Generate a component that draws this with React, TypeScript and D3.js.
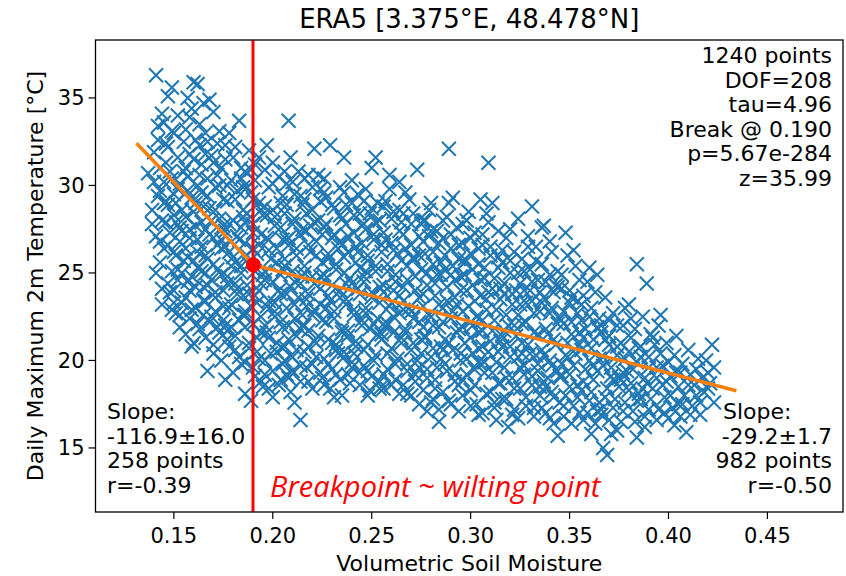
import React from "react";
import * as d3 from "d3";

const W = 846;
const H = 576;

const titleText = "ERA5 [3.375°E, 48.478°N]";
const xLabel = "Volumetric Soil Moisture";
const yLabel = "Daily Maximum 2m Temperature [°C]";
const xTicks = [0.15, 0.2, 0.25, 0.3, 0.35, 0.4, 0.45];
const yTicks = [15, 20, 25, 30, 35];

const statsLines = ["1240 points", "DOF=208", "tau=4.96", "Break @ 0.190", "p=5.67e-284", "z=35.99"];
const leftLines = ["Slope:", "-116.9±16.0", "258 points", "r=-0.39"];
const rightLines = ["Slope:", "-29.2±1.7", "982 points", "r=-0.50"];
const breakLabel = "Breakpoint ~ wilting point";

const breakX = 0.19;
const fitX = [0.1311, 0.1902, 0.4343];
const fitY = [32.41, 25.46, 18.27];

type P = [number, number];

const band014: P[] = [[0.141,36.3],[0.144,34.1],[0.145,33.6],[0.140,31.9],[0.137,30.7],[0.143,31.0],[0.145,30.2],[0.142,29.4],[0.139,28.6],[0.144,28.0],[0.141,27.1],[0.145,26.4],[0.143,25.6],[0.144,24.1],[0.145,29.0],[0.146,32.4]];
const fill014: P[] = [[0.140,30.2],[0.142,32.6],[0.139,27.8],[0.143,26.8],[0.141,25.0],[0.144,23.2],[0.142,33.4],[0.143,29.7]];
const band015: P[] = [[0.149,35.6],[0.150,33.0],[0.147,32.2],[0.152,31.6],[0.148,30.8],[0.153,30.1],[0.150,29.5],[0.147,28.9],[0.154,28.6],[0.151,27.9],[0.148,27.3],[0.153,26.8],[0.150,26.2],[0.155,25.7],[0.149,25.1],[0.152,24.6],[0.148,23.9],[0.154,23.3],[0.151,22.7],[0.149,22.9],[0.153,21.9],[0.155,32.5],[0.151,29.0],[0.154,27.4],[0.152,25.2],[0.150,24.0]];
const fill015: P[] = [[0.146,31.3],[0.149,30.4],[0.152,29.8],[0.146,29.1],[0.150,28.3],[0.153,27.6],[0.147,26.6],[0.151,26.0],[0.154,25.0],[0.147,24.4],[0.150,23.3],[0.153,22.6],[0.146,27.9],[0.155,30.8],[0.149,33.1],[0.152,34.0],[0.147,35.1]];
const band016: P[] = [[0.160,35.9],[0.157,35.0],[0.162,35.8],[0.159,34.4],[0.163,33.5],[0.156,33.2],[0.161,32.6],[0.158,31.8],[0.164,31.2],[0.157,30.5],[0.162,30.0],[0.159,29.3],[0.165,28.8],[0.156,28.2],[0.161,27.7],[0.158,27.0],[0.164,26.5],[0.157,25.9],[0.162,25.3],[0.159,24.8],[0.165,24.2],[0.156,23.6],[0.161,23.0],[0.158,22.4],[0.163,21.8],[0.159,20.8],[0.164,29.6],[0.160,28.5],[0.163,26.1],[0.158,24.0],[0.165,22.6]];
const fill016: P[] = [[0.156,31.0],[0.160,31.5],[0.163,30.6],[0.157,29.7],[0.161,29.0],[0.164,27.9],[0.158,27.5],[0.162,26.9],[0.156,26.4],[0.160,25.7],[0.164,25.1],[0.157,24.5],[0.161,24.2],[0.165,23.4],[0.159,22.9],[0.162,22.1],[0.156,21.5],[0.160,21.0],[0.163,32.3],[0.158,33.9],[0.165,34.7]];
const band017: P[] = [[0.168,34.9],[0.170,34.2],[0.166,33.0],[0.172,32.4],[0.169,31.7],[0.174,31.0],[0.167,30.4],[0.171,29.9],[0.175,29.2],[0.168,28.7],[0.173,28.1],[0.166,27.5],[0.170,27.0],[0.174,26.4],[0.167,25.8],[0.172,25.2],[0.169,24.6],[0.175,24.0],[0.166,23.4],[0.171,22.8],[0.168,22.2],[0.173,21.6],[0.170,20.9],[0.174,20.0],[0.167,19.4],[0.172,30.6],[0.169,28.0],[0.174,26.9],[0.166,25.0],[0.171,23.9],[0.175,22.3]];
const fill017: P[] = [[0.166,31.8],[0.170,31.3],[0.173,30.0],[0.167,29.4],[0.171,28.6],[0.175,27.7],[0.168,27.2],[0.172,26.6],[0.166,26.0],[0.170,25.5],[0.174,24.9],[0.167,24.3],[0.171,23.6],[0.175,23.1],[0.169,22.5],[0.172,21.9],[0.166,21.3],[0.170,20.4],[0.173,33.1],[0.167,32.5]];
const band018: P[] = [[0.183,33.7],[0.178,33.0],[0.181,32.2],[0.176,31.5],[0.184,31.0],[0.179,30.3],[0.182,29.7],[0.177,29.1],[0.185,28.6],[0.180,28.0],[0.176,27.4],[0.183,26.9],[0.178,26.2],[0.181,25.6],[0.184,25.0],[0.177,24.4],[0.182,23.8],[0.179,23.2],[0.185,22.6],[0.176,22.0],[0.181,21.4],[0.178,20.8],[0.183,20.2],[0.180,19.3],[0.176,18.9],[0.184,27.6],[0.179,25.4],[0.182,24.1],[0.177,21.2],[0.185,29.9]];
const fill018: P[] = [[0.176,32.3],[0.180,31.6],[0.184,30.4],[0.177,30.0],[0.181,29.2],[0.185,28.2],[0.178,27.8],[0.182,27.1],[0.176,26.5],[0.180,25.9],[0.184,25.4],[0.177,24.8],[0.181,24.4],[0.185,23.7],[0.178,23.0],[0.183,22.3],[0.177,21.7],[0.181,20.6],[0.184,19.8],[0.179,21.9]];
const band019: P[] = [[0.188,32.0],[0.186,30.8],[0.191,30.3],[0.189,29.6],[0.193,29.0],[0.187,28.4],[0.190,27.8],[0.194,27.2],[0.186,26.7],[0.192,26.1],[0.188,25.5],[0.195,24.9],[0.187,24.3],[0.191,23.7],[0.189,23.1],[0.194,22.5],[0.186,21.9],[0.192,21.3],[0.188,20.7],[0.193,20.1],[0.190,19.6],[0.186,18.1],[0.195,18.5],[0.195,28.3],[0.190,26.4],[0.193,24.0],[0.186,22.8],[0.191,31.2],[0.194,18.8],[0.189,17.7]];
const fill019: P[] = [[0.187,29.9],[0.190,29.2],[0.194,28.6],[0.186,27.9],[0.190,27.3],[0.193,26.6],[0.187,26.0],[0.191,25.1],[0.194,24.4],[0.188,23.8],[0.192,23.3],[0.186,22.6],[0.190,22.1],[0.194,21.6],[0.188,21.0],[0.192,20.5],[0.186,19.9],[0.191,19.1],[0.189,30.9],[0.193,31.6]];
const band020: P[] = [[0.197,32.3],[0.200,31.3],[0.203,30.5],[0.198,29.9],[0.205,29.4],[0.196,28.8],[0.201,28.2],[0.204,27.6],[0.197,27.0],[0.202,26.4],[0.199,25.8],[0.205,25.2],[0.196,24.6],[0.203,24.0],[0.198,23.4],[0.201,22.8],[0.204,22.2],[0.197,21.6],[0.202,21.0],[0.199,20.4],[0.205,19.8],[0.196,19.2],[0.203,18.6],[0.200,17.9],[0.198,26.9],[0.204,24.9],[0.201,23.3],[0.196,22.0],[0.205,20.7],[0.200,28.6]];
const fill020: P[] = [[0.196,30.9],[0.200,30.1],[0.204,29.0],[0.197,28.3],[0.201,27.7],[0.205,26.9],[0.198,26.3],[0.202,25.6],[0.196,25.1],[0.200,24.5],[0.204,23.8],[0.197,23.1],[0.201,22.5],[0.205,21.9],[0.198,21.3],[0.202,20.5],[0.196,20.0],[0.200,19.4],[0.204,18.9],[0.198,18.4]];
const band021: P[] = [[0.208,33.7],[0.209,31.6],[0.213,30.8],[0.207,30.1],[0.211,29.5],[0.215,28.9],[0.206,28.4],[0.210,27.8],[0.214,27.2],[0.208,26.6],[0.212,26.0],[0.206,25.4],[0.215,24.8],[0.209,24.2],[0.213,23.6],[0.207,23.0],[0.211,22.4],[0.214,21.8],[0.208,21.2],[0.212,20.6],[0.206,20.0],[0.210,19.4],[0.214,18.8],[0.209,18.2],[0.211,17.6],[0.214,16.6],[0.207,26.9],[0.211,24.5],[0.215,22.0],[0.208,19.0]];
const fill021: P[] = [[0.206,30.8],[0.210,30.2],[0.214,29.4],[0.207,28.9],[0.211,28.1],[0.215,27.5],[0.208,27.0],[0.212,26.4],[0.206,25.8],[0.210,25.1],[0.214,24.4],[0.207,23.8],[0.211,23.2],[0.215,22.6],[0.208,22.0],[0.212,21.4],[0.206,20.8],[0.210,20.2],[0.214,19.7],[0.207,19.2]];
const band022: P[] = [[0.221,32.1],[0.218,30.6],[0.224,29.8],[0.216,29.2],[0.220,28.6],[0.223,28.0],[0.217,27.4],[0.222,26.8],[0.219,26.2],[0.225,25.6],[0.216,25.0],[0.221,24.4],[0.218,23.8],[0.224,23.2],[0.220,22.6],[0.216,22.0],[0.223,21.4],[0.218,20.8],[0.222,20.2],[0.217,19.6],[0.225,19.0],[0.220,18.4],[0.219,27.7],[0.224,24.8],[0.217,23.1],[0.221,21.1],[0.223,30.6]];
const fill022: P[] = [[0.216,30.4],[0.220,29.9],[0.224,29.1],[0.217,28.4],[0.221,27.9],[0.225,27.2],[0.218,26.6],[0.222,26.0],[0.216,25.4],[0.220,24.8],[0.224,24.1],[0.217,23.5],[0.221,22.9],[0.225,22.3],[0.218,21.7],[0.222,21.0],[0.216,20.5],[0.220,19.8],[0.224,19.3],[0.218,18.8]];
const band023: P[] = [[0.229,32.3],[0.234,29.9],[0.227,29.3],[0.231,28.7],[0.235,28.1],[0.226,27.6],[0.230,27.0],[0.233,26.4],[0.228,25.8],[0.232,25.2],[0.226,24.6],[0.234,24.0],[0.229,23.4],[0.231,22.8],[0.227,22.2],[0.235,21.6],[0.230,21.0],[0.233,20.4],[0.228,19.8],[0.232,19.2],[0.226,18.6],[0.231,17.9],[0.234,26.8],[0.228,23.7],[0.232,20.9],[0.226,30.4]];
const fill023: P[] = [[0.226,29.6],[0.230,28.9],[0.234,28.3],[0.227,27.8],[0.231,27.2],[0.235,26.6],[0.228,26.1],[0.232,25.5],[0.226,24.9],[0.230,24.3],[0.234,23.6],[0.227,23.0],[0.231,22.4],[0.235,21.8],[0.228,21.2],[0.232,20.6],[0.226,20.1],[0.230,19.5],[0.234,18.9],[0.229,18.4]];
const band024: P[] = [[0.236,31.6],[0.240,30.3],[0.243,29.5],[0.237,28.9],[0.241,28.3],[0.245,27.7],[0.238,27.1],[0.242,26.5],[0.236,25.9],[0.244,25.3],[0.239,24.7],[0.243,24.1],[0.237,23.5],[0.241,22.9],[0.245,22.3],[0.238,21.7],[0.242,21.1],[0.236,20.5],[0.240,19.9],[0.244,19.3],[0.235,18.0],[0.239,18.7],[0.243,26.2],[0.237,24.4],[0.241,20.4]];
const fill024: P[] = [[0.236,29.6],[0.240,29.0],[0.244,28.4],[0.237,27.8],[0.241,27.3],[0.245,26.7],[0.238,26.2],[0.242,25.6],[0.236,25.0],[0.240,24.4],[0.244,23.8],[0.237,23.2],[0.241,22.6],[0.245,22.0],[0.238,21.4],[0.242,20.8],[0.236,20.2],[0.240,19.6],[0.244,18.6],[0.238,19.2]];
const band025: P[] = [[0.252,31.6],[0.250,31.0],[0.247,29.8],[0.253,29.0],[0.249,28.4],[0.246,27.8],[0.251,27.2],[0.255,26.6],[0.248,26.0],[0.252,25.4],[0.246,24.8],[0.254,24.2],[0.250,23.6],[0.247,23.0],[0.253,22.4],[0.249,21.8],[0.255,21.2],[0.246,20.6],[0.251,20.0],[0.248,19.4],[0.254,18.8],[0.249,18.3],[0.252,27.9],[0.247,25.1],[0.253,21.5]];
const fill025: P[] = [[0.246,29.1],[0.250,28.7],[0.254,28.0],[0.247,27.5],[0.251,26.9],[0.255,26.2],[0.248,25.7],[0.252,25.1],[0.246,24.5],[0.250,23.9],[0.254,23.3],[0.247,22.7],[0.251,22.1],[0.255,21.5],[0.248,20.9],[0.252,20.3],[0.246,19.7],[0.250,19.1],[0.254,18.4],[0.248,18.0]];
const band026: P[] = [[0.259,30.6],[0.264,30.2],[0.257,29.1],[0.261,28.5],[0.265,27.9],[0.256,27.3],[0.260,26.7],[0.263,26.1],[0.258,25.5],[0.262,24.9],[0.256,24.3],[0.264,23.7],[0.259,23.1],[0.261,22.5],[0.257,21.9],[0.265,21.3],[0.260,20.7],[0.263,20.1],[0.258,19.5],[0.262,18.9],[0.256,18.4],[0.261,24.0],[0.264,28.6],[0.258,22.1]];
const fill026: P[] = [[0.256,28.8],[0.260,28.1],[0.264,27.4],[0.257,26.9],[0.261,26.3],[0.265,25.7],[0.258,25.1],[0.262,24.5],[0.256,23.9],[0.260,23.3],[0.264,22.7],[0.257,22.2],[0.261,21.6],[0.265,21.0],[0.258,20.4],[0.262,19.8],[0.256,19.2],[0.260,18.6],[0.264,18.1],[0.259,29.8]];
const band027: P[] = [[0.273,30.9],[0.267,29.6],[0.271,28.4],[0.275,27.8],[0.266,27.2],[0.270,26.6],[0.274,26.0],[0.268,25.4],[0.272,24.8],[0.266,24.2],[0.274,23.6],[0.269,23.0],[0.271,22.4],[0.267,21.8],[0.275,21.2],[0.270,20.6],[0.273,20.0],[0.268,19.4],[0.272,18.8],[0.268,18.1],[0.271,25.9],[0.266,22.9],[0.274,19.6]];
const fill027: P[] = [[0.266,28.4],[0.270,27.8],[0.274,27.1],[0.267,26.4],[0.271,25.8],[0.275,25.2],[0.268,24.6],[0.272,24.0],[0.266,23.4],[0.270,22.8],[0.274,22.2],[0.267,21.6],[0.271,21.0],[0.275,20.4],[0.268,19.8],[0.272,19.2],[0.266,18.6],[0.270,18.0],[0.274,17.5],[0.269,29.2]];
const band028: P[] = [[0.280,29.0],[0.277,28.0],[0.283,27.4],[0.276,26.8],[0.281,26.2],[0.285,25.6],[0.278,25.0],[0.282,24.4],[0.276,23.8],[0.284,23.2],[0.279,22.6],[0.281,22.0],[0.277,21.4],[0.285,20.8],[0.280,20.2],[0.283,19.6],[0.278,19.0],[0.282,18.4],[0.278,17.1],[0.284,16.5],[0.279,27.1],[0.283,24.9],[0.276,21.9],[0.281,17.8]];
const fill028: P[] = [[0.276,28.0],[0.280,27.4],[0.284,26.7],[0.277,26.1],[0.281,25.5],[0.285,24.9],[0.278,24.3],[0.282,23.7],[0.276,23.1],[0.280,22.5],[0.284,21.9],[0.277,21.3],[0.281,20.7],[0.285,20.1],[0.278,19.5],[0.282,18.9],[0.276,18.3],[0.280,17.6],[0.284,17.2],[0.279,28.6]];
const band029: P[] = [[0.289,32.1],[0.291,29.3],[0.288,28.2],[0.293,27.6],[0.286,27.0],[0.290,26.4],[0.294,25.8],[0.287,25.2],[0.292,24.6],[0.295,24.0],[0.288,23.4],[0.291,22.8],[0.286,22.2],[0.293,21.6],[0.289,21.0],[0.295,20.4],[0.287,19.8],[0.292,19.2],[0.289,17.7],[0.294,18.6],[0.290,24.9],[0.286,20.6],[0.293,23.2]];
const fill029: P[] = [[0.286,28.0],[0.290,27.2],[0.294,26.6],[0.287,26.0],[0.291,25.4],[0.295,24.8],[0.288,24.2],[0.292,23.6],[0.286,23.0],[0.290,22.4],[0.294,21.8],[0.287,21.2],[0.291,20.6],[0.295,20.0],[0.288,19.4],[0.292,18.8],[0.286,18.2],[0.290,17.5],[0.294,17.1],[0.289,29.0]];
const band030: P[] = [[0.305,29.2],[0.298,28.0],[0.302,27.3],[0.296,26.7],[0.300,26.1],[0.304,25.5],[0.297,24.9],[0.301,24.3],[0.305,23.7],[0.299,23.1],[0.303,22.5],[0.296,21.9],[0.300,21.3],[0.304,20.7],[0.298,20.1],[0.302,19.5],[0.296,18.9],[0.300,18.3],[0.303,17.5],[0.301,22.0],[0.297,25.6],[0.304,19.9]];
const fill030: P[] = [[0.296,27.8],[0.300,27.0],[0.304,26.4],[0.297,25.8],[0.301,25.2],[0.305,24.6],[0.298,24.0],[0.302,23.4],[0.296,22.8],[0.300,22.2],[0.304,21.6],[0.297,21.0],[0.301,20.4],[0.305,19.8],[0.298,19.2],[0.302,18.6],[0.296,18.0],[0.300,17.4],[0.304,16.9],[0.299,28.5]];
const band031: P[] = [[0.309,31.3],[0.308,28.4],[0.311,29.0],[0.306,27.2],[0.310,26.5],[0.314,25.9],[0.307,25.3],[0.312,24.7],[0.315,24.1],[0.308,23.5],[0.313,22.9],[0.306,22.3],[0.311,21.7],[0.315,21.1],[0.309,20.5],[0.313,19.9],[0.307,19.3],[0.310,18.2],[0.314,18.7],[0.312,17.3],[0.309,23.9],[0.306,20.8]];
const fill031: P[] = [[0.306,26.6],[0.310,26.0],[0.314,25.3],[0.307,24.7],[0.311,24.1],[0.315,23.5],[0.308,22.9],[0.312,22.3],[0.306,21.7],[0.310,21.1],[0.314,20.5],[0.307,19.9],[0.311,19.3],[0.315,18.7],[0.308,18.1],[0.312,17.6],[0.306,17.0],[0.314,27.4],[0.309,27.9],[0.313,16.6]];
const band032: P[] = [[0.324,28.1],[0.318,27.0],[0.322,26.2],[0.316,25.6],[0.320,25.0],[0.325,24.4],[0.317,23.8],[0.321,23.2],[0.324,22.6],[0.319,22.0],[0.323,21.4],[0.316,20.8],[0.320,20.2],[0.325,19.6],[0.318,19.0],[0.322,18.4],[0.316,17.8],[0.319,16.2],[0.321,16.9],[0.323,24.0],[0.317,21.7]];
const fill032: P[] = [[0.316,26.3],[0.320,25.7],[0.324,25.0],[0.317,24.4],[0.321,23.8],[0.325,23.2],[0.318,22.6],[0.322,22.0],[0.316,21.4],[0.320,20.8],[0.324,20.2],[0.317,19.6],[0.321,19.0],[0.325,18.4],[0.318,17.8],[0.322,17.2],[0.320,27.5],[0.324,16.7]];
const band033: P[] = [[0.331,28.8],[0.336,27.6],[0.329,26.5],[0.333,25.7],[0.327,25.1],[0.331,24.5],[0.335,23.9],[0.328,23.3],[0.332,22.7],[0.326,22.1],[0.334,21.5],[0.329,20.9],[0.333,20.3],[0.327,19.7],[0.331,19.1],[0.335,18.5],[0.328,17.9],[0.332,17.3],[0.330,24.0],[0.334,19.4],[0.326,20.4]];
const fill033: P[] = [[0.326,25.8],[0.330,25.2],[0.334,24.6],[0.327,24.0],[0.331,23.4],[0.335,22.8],[0.328,22.2],[0.332,21.6],[0.326,21.0],[0.330,20.4],[0.334,19.8],[0.327,19.2],[0.331,18.6],[0.335,18.0],[0.328,17.4],[0.332,16.8],[0.329,27.1],[0.333,26.5]];
const band034: P[] = [[0.337,27.7],[0.341,26.2],[0.344,25.1],[0.338,24.5],[0.342,23.9],[0.336,23.3],[0.340,22.7],[0.344,22.1],[0.339,21.5],[0.343,20.9],[0.337,20.3],[0.341,19.7],[0.345,19.1],[0.338,18.5],[0.342,17.9],[0.336,17.3],[0.344,15.7],[0.340,16.7],[0.343,24.3],[0.339,19.0]];
const fill034: P[] = [[0.336,25.5],[0.340,24.9],[0.344,24.2],[0.337,23.6],[0.341,23.0],[0.345,22.4],[0.338,21.8],[0.342,21.2],[0.336,20.6],[0.340,20.0],[0.344,19.4],[0.337,18.8],[0.341,18.2],[0.345,17.6],[0.338,17.0],[0.342,16.4],[0.340,26.8]];
const band035: P[] = [[0.348,27.3],[0.352,26.3],[0.346,24.9],[0.350,24.0],[0.354,23.4],[0.347,22.8],[0.351,22.2],[0.355,21.6],[0.349,21.0],[0.353,20.4],[0.346,19.8],[0.350,19.2],[0.354,18.6],[0.348,18.0],[0.352,17.4],[0.347,16.8],[0.355,17.0],[0.351,23.6],[0.349,20.2]];
const fill035: P[] = [[0.346,24.1],[0.350,23.3],[0.354,22.7],[0.347,22.1],[0.351,21.5],[0.355,20.9],[0.348,20.3],[0.352,19.7],[0.346,19.1],[0.350,18.5],[0.354,17.9],[0.347,17.4],[0.351,16.4],[0.353,25.4],[0.349,26.0],[0.355,24.6]];
const band036: P[] = [[0.360,25.3],[0.364,24.9],[0.357,23.7],[0.361,23.0],[0.365,22.4],[0.358,21.8],[0.362,21.2],[0.356,20.6],[0.360,20.0],[0.364,19.4],[0.357,18.8],[0.361,18.2],[0.365,17.6],[0.359,17.0],[0.363,16.4],[0.361,15.8],[0.356,22.3],[0.362,19.7]];
const fill036: P[] = [[0.356,23.2],[0.360,22.5],[0.364,21.9],[0.357,21.3],[0.361,20.7],[0.365,20.1],[0.358,19.5],[0.362,18.9],[0.356,18.3],[0.360,17.7],[0.364,17.1],[0.357,16.6],[0.363,23.9],[0.359,24.5]];
const band037: P[] = [[0.368,23.6],[0.372,22.7],[0.366,22.0],[0.370,21.4],[0.374,20.8],[0.367,20.2],[0.371,19.6],[0.375,19.0],[0.369,18.4],[0.373,17.8],[0.366,17.2],[0.370,16.6],[0.367,15.0],[0.369,14.6],[0.374,16.0],[0.368,21.2],[0.372,18.9]];
const fill037: P[] = [[0.366,21.6],[0.370,20.9],[0.374,20.3],[0.367,19.7],[0.371,19.1],[0.375,18.5],[0.368,17.9],[0.372,17.3],[0.366,16.9],[0.370,22.3],[0.374,22.0],[0.371,15.8]];
const band038: P[] = [[0.384,25.5],[0.380,23.2],[0.377,22.0],[0.381,21.3],[0.385,20.7],[0.378,20.1],[0.382,19.5],[0.376,18.9],[0.380,18.3],[0.384,17.7],[0.377,17.1],[0.383,16.5],[0.384,15.6],[0.379,19.4],[0.381,22.4]];
const fill038: P[] = [[0.376,21.0],[0.380,20.5],[0.384,19.9],[0.377,19.3],[0.381,18.7],[0.385,18.1],[0.378,17.6],[0.382,17.1],[0.376,16.5],[0.383,21.8],[0.378,23.0]];
const band039: P[] = [[0.389,24.4],[0.387,22.5],[0.391,21.5],[0.386,20.8],[0.390,20.2],[0.394,19.6],[0.388,19.0],[0.392,18.4],[0.386,17.8],[0.390,17.2],[0.394,16.6],[0.388,16.2],[0.393,20.9],[0.389,18.7]];
const fill039: P[] = [[0.386,20.2],[0.390,19.6],[0.394,19.0],[0.387,18.4],[0.391,17.8],[0.395,17.2],[0.388,16.8],[0.392,21.3],[0.395,22.0]];
const band040: P[] = [[0.396,22.6],[0.399,21.0],[0.403,20.3],[0.397,19.7],[0.401,19.1],[0.405,18.5],[0.398,17.9],[0.402,17.3],[0.400,16.7],[0.404,21.4],[0.399,18.8]];
const fill040: P[] = [[0.396,20.4],[0.400,19.9],[0.404,19.3],[0.397,18.6],[0.401,18.0],[0.405,17.5],[0.398,17.0],[0.403,16.3]];
const band041: P[] = [[0.409,15.9],[0.407,19.8],[0.411,19.2],[0.413,18.6],[0.408,18.0],[0.412,17.4],[0.406,16.8],[0.410,20.6],[0.414,19.5]];
const fill041: P[] = [[0.406,19.3],[0.410,18.6],[0.414,18.0],[0.407,17.5],[0.411,16.9],[0.415,20.1]];
const band042: P[] = [[0.422,20.9],[0.423,19.6],[0.421,18.7],[0.418,18.2],[0.423,17.6],[0.416,16.9],[0.420,19.3]];
const fill042: P[] = [[0.417,19.0],[0.420,18.4],[0.416,17.6],[0.419,20.0]];

const points: P[] = [
  ...band014, ...fill014, ...band015, ...fill015, ...band016, ...fill016, ...band017, ...fill017,
  ...band018, ...fill018, ...band019, ...fill019, ...band020, ...fill020, ...band021, ...fill021,
  ...band022, ...fill022, ...band023, ...fill023, ...band024, ...fill024, ...band025, ...fill025,
  ...band026, ...fill026, ...band027, ...fill027, ...band028, ...fill028, ...band029, ...fill029,
  ...band030, ...fill030, ...band031, ...fill031, ...band032, ...fill032, ...band033, ...fill033,
  ...band034, ...fill034, ...band035, ...fill035, ...band036, ...fill036, ...band037, ...fill037,
  ...band038, ...fill038, ...band039, ...fill039, ...band040, ...fill040, ...band041, ...fill041,
  ...band042, ...fill042,
];

const FONT = "'DejaVu Sans', sans-serif";

export default function App() {
  const left = 95.5, right = 843, top = 40, bottom = 512;
  const x = d3.scaleLinear().domain([0.1104, 0.4882]).range([left, right]);
  const y = d3.scaleLinear().domain([11.34, 38.31]).range([bottom, top]);
  const fit: P[] = fitX.map((v, i) => [v, fitY[i]]);
  const line = d3.line<P>().x((d) => x(d[0])).y((d) => y(d[1]));
  const ms = 7;
  const lh = 24.6;

  return (
    <svg width={W} height={H} style={{ position: "absolute", left: 0, top: 0, background: "#fff" }} fontFamily={FONT}>
      <rect x={0} y={0} width={W} height={H} fill="#fff" />
      <defs>
        <clipPath id="ax">
          <rect x={left} y={top} width={right - left} height={bottom - top} />
        </clipPath>
      </defs>
      <g clipPath="url(#ax)">
        <g stroke="#1f77b4" strokeWidth={2} fill="none">
          {points.map((p, i) => {
            const cx = x(p[0]), cy = y(p[1]);
            return (
              <path key={i} d={`M${cx - ms},${cy - ms}L${cx + ms},${cy + ms}M${cx - ms},${cy + ms}L${cx + ms},${cy - ms}`} />
            );
          })}
        </g>
        <path d={line(fit) || ""} stroke="#ff7f0e" strokeWidth={3.5} fill="none" />
        <line x1={x(breakX)} x2={x(breakX)} y1={top} y2={bottom} stroke="#ff0000" strokeWidth={3} />
        <circle cx={x(fitX[1])} cy={y(fitY[1])} r={7.5} fill="#ff0000" />
      </g>
      <rect x={left} y={top} width={right - left} height={bottom - top} fill="none" stroke="#000" strokeWidth={1.3} />
      {xTicks.map((t) => (
        <g key={t}>
          <line x1={x(t)} x2={x(t)} y1={bottom} y2={bottom + 7} stroke="#000" strokeWidth={1.2} />
          <text x={x(t)} y={bottom + 31} textAnchor="middle" fontSize={21}>{t.toFixed(2)}</text>
        </g>
      ))}
      {yTicks.map((t) => (
        <g key={t}>
          <line x1={left - 7} x2={left} y1={y(t)} y2={y(t)} stroke="#000" strokeWidth={1.2} />
          <text x={left - 11} y={y(t) + 7.5} textAnchor="end" fontSize={21}>{t}</text>
        </g>
      ))}
      <text x={(left + right) / 2} y={28} textAnchor="middle" fontSize={26}>{titleText}</text>
      <text x={(left + right) / 2} y={571} textAnchor="middle" fontSize={22}>{xLabel}</text>
      <text transform={`translate(43,${(top + bottom) / 2}) rotate(-90)`} textAnchor="middle" fontSize={22}>{yLabel}</text>
      {statsLines.map((s, i) => (
        <text key={s} x={832} y={63 + i * lh} textAnchor="end" fontSize={22}>{s}</text>
      ))}
      {leftLines.map((s, i) => (
        <text key={s} x={107} y={419 + i * lh} textAnchor="start" fontSize={22}>{s}</text>
      ))}
      {rightLines.map((s, i) => (
        <text key={s} x={i === 0 ? 723 : 832} y={419 + i * lh} textAnchor={i === 0 ? "start" : "end"} fontSize={22}>{s}</text>
      ))}
      <text x={270} y={497} fill="#ff0000" fontStyle="italic" fontSize={29} fontFamily="'Open Sans', sans-serif">{breakLabel}</text>
    </svg>
  );
}
